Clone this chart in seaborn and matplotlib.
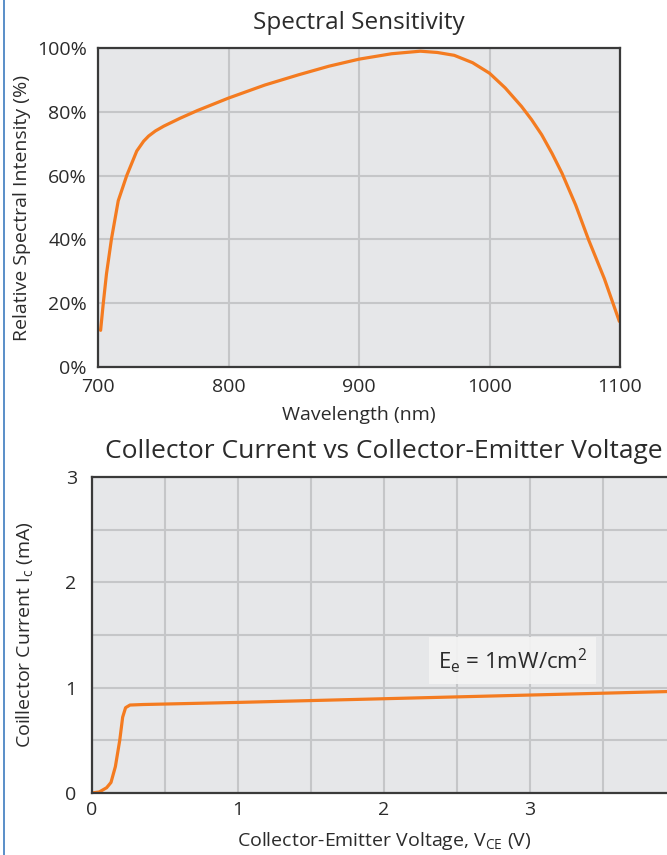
import matplotlib
matplotlib.use('Agg')
import matplotlib.pyplot as plt
from matplotlib.lines import Line2D
from matplotlib.ticker import MultipleLocator, FuncFormatter
import pandas as pd
import seaborn as sns

# spectral sensitivity curve
wavelength_nm = [702.0, 704.0, 706.5, 710.3, 715.5, 722.0, 729.7, 735.0, 738.8, 744.0,
                 750.4, 763.0, 776.2, 800.0, 827.9, 853.7, 877.0, 900.0, 925.0, 947.0,
                 960.0, 973.0, 987.0, 1000.0, 1012.0, 1024.5, 1032.3, 1040.0, 1048.0,
                 1055.6, 1066.0, 1076.0, 1088.0, 1099.5]
rel_intensity = [11.5, 19.8, 29.2, 40.1, 52.1, 60.0, 67.7, 70.8, 72.4, 74.0,
                 75.5, 78.0, 80.4, 84.3, 88.4, 91.6, 94.3, 96.5, 98.2, 99.0,
                 98.6, 97.7, 95.4, 92.1, 87.5, 81.7, 77.5, 72.8, 66.9,
                 60.7, 50.8, 39.8, 27.7, 14.3]

# collector current vs collector-emitter voltage
vce = [0.0, 0.05, 0.1, 0.13, 0.16, 0.19, 0.21, 0.23, 0.26, 0.35, 1.0, 2.0, 3.0, 4.0]
ic = [0.0, 0.01, 0.05, 0.1, 0.25, 0.5, 0.72, 0.81, 0.835, 0.84, 0.86, 0.895, 0.93, 0.965]

ORANGE = '#f47b20'
TEXT = '#2b2b2b'

sns.set_style("whitegrid", {
    'axes.facecolor': '#e6e7e9',
    'axes.edgecolor': '#3a3a3a',
    'grid.color': '#c5c6c8',
})
plt.rcParams['font.family'] = ['Open Sans', 'DejaVu Sans']
plt.rcParams['mathtext.fontset'] = 'custom'
plt.rcParams['mathtext.rm'] = 'Open Sans'

W, H = 667, 855
fig = plt.figure(figsize=(W / 100, H / 100), dpi=100)

def place(x0, y0, x1, y1):
    return fig.add_axes([x0 / W, 1 - y1 / H, (x1 - x0) / W, (y1 - y0) / H])

def style(ax):
    for s in ax.spines.values():
        s.set_linewidth(1.6)
        s.set_color('#3a3a3a')
    ax.grid(True, which='both', color='#c5c6c8', linewidth=1.5)
    ax.set_axisbelow(True)
    ax.tick_params(which='both', length=0, labelsize=14, labelcolor=TEXT)

# ---- top: spectral sensitivity
ax1 = place(98, 48, 620, 367)
spec = pd.DataFrame({'Wavelength': wavelength_nm, 'Intensity': rel_intensity})
sns.lineplot(x='Wavelength', y='Intensity', data=spec, ax=ax1, color=ORANGE, linewidth=2.3)
ax1.set_xlim(700, 1100)
ax1.set_ylim(0, 100)
ax1.set_xticks([700, 800, 900, 1000, 1100])
ax1.set_yticks([0, 20, 40, 60, 80, 100])
ax1.yaxis.set_major_formatter(FuncFormatter(lambda v, p: f"{v:.0f}%"))
style(ax1)
ax1.tick_params(axis='x', pad=8)
ax1.tick_params(axis='y', pad=8)
ax1.set_title('Spectral Sensitivity', fontsize=17.5, color=TEXT, pad=14)
ax1.set_xlabel('Wavelength (nm)', fontsize=14, color=TEXT, labelpad=7)
ax1.set_ylabel('Relative Spectral Intensity (%)', fontsize=14, color=TEXT, labelpad=4)

# ---- bottom: Ic vs Vce (axes runs past the right edge of the image)
ax2 = place(92, 477, 676, 793)
iv = pd.DataFrame({'Vce': vce, 'Ic': ic})
sns.lineplot(x='Vce', y='Ic', data=iv, ax=ax2, color=ORANGE, linewidth=2.3)
ax2.set_xlim(0, 4)
ax2.set_ylim(0, 3)
ax2.xaxis.set_major_locator(MultipleLocator(1))
ax2.xaxis.set_minor_locator(MultipleLocator(0.5))
ax2.yaxis.set_major_locator(MultipleLocator(1))
ax2.yaxis.set_minor_locator(MultipleLocator(0.5))
style(ax2)
ax2.tick_params(axis='x', pad=5.5)
ax2.tick_params(axis='y', pad=11)
ax2.set_title('Collector Current vs Collector-Emitter Voltage', fontsize=19, color=TEXT, pad=14)
ax2.set_xlabel(r'Collector-Emitter Voltage, V$_\mathregular{CE}$ (V)', fontsize=14, color=TEXT, labelpad=8)
ax2.set_ylabel(r'Coillector Current I$_\mathregular{c}$ (mA)', fontsize=14, color=TEXT, labelpad=21)
ax2.text(2.88, 1.26, r'E$_\mathregular{e}$ = 1mW/cm$^\mathregular{2}$', fontsize=16, color=TEXT,
         ha='center', va='center',
         bbox=dict(boxstyle='square,pad=0.4', facecolor='#f4f4f4', edgecolor='none', alpha=0.9))

# thin blue border at the left edge of the page
fig.add_artist(Line2D([3.5 / W, 3.5 / W], [0, 1], color='#3d7bbf', linewidth=1.2))

plt.savefig('out.png', dpi=100)
plt.close()
